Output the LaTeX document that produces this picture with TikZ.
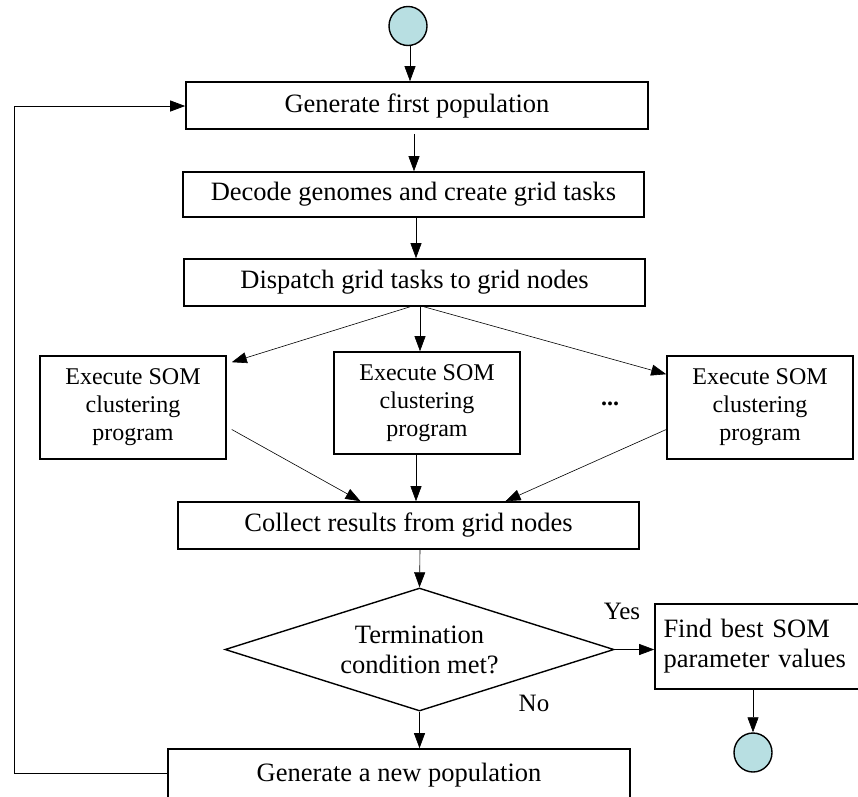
\documentclass[tikz,border=0pt]{standalone}
\usepackage{fontspec}
\setmainfont{Liberation Serif}
\usetikzlibrary{shapes.geometric,arrows.meta}
\definecolor{startcol}{RGB}{184,223,226}
\tikzset{
  procbox/.style={draw,line width=1.6pt,inner sep=0pt,align=center,font=\fontsize{26.5}{30}\selectfont},
  sombox/.style={draw,line width=1.6pt,inner sep=0pt,align=center,minimum width=186pt,minimum height=103pt,font=\fontsize{24}{28}\selectfont},
  termnode/.style={draw,line width=1.4pt,ellipse,fill=startcol,minimum width=38pt,minimum height=39pt,inner sep=0pt},
  conn/.style={line width=0.6pt,-{Triangle[length=15pt,width=11pt]}},
  lbl/.style={font=\fontsize{25}{30}\selectfont,inner sep=0pt}
}
\begin{document}
\begin{tikzpicture}[x=1pt,y=-1pt]
\useasboundingbox (0,0) rectangle (858,796);
\node[termnode] (start) at (408,26) {};
\node[procbox,minimum width=462pt,minimum height=47pt] (gen) at (417,105.5) {Generate first population};
\node[procbox,minimum width=461pt,minimum height=45pt] (dec) at (413.5,194.5) {Decode genomes and create grid tasks};
\node[procbox,minimum width=461pt,minimum height=47pt] (disp) at (414.5,282.5) {Dispatch grid tasks to grid nodes};
\node[sombox] (som1) at (133,407.5) {Execute SOM\\clustering\\program};
\node[sombox,minimum height=102pt] (som2) at (427,403) {Execute SOM\\clustering\\program};
\node[sombox] (som3) at (760,407.5) {Execute SOM\\clustering\\program};
\node[font=\fontsize{24}{28}\selectfont\bfseries,inner sep=0pt] (dots) at (610,404) {...};
\node[procbox,minimum width=461pt,minimum height=47pt] (coll) at (408.5,525.5) {Collect results from grid nodes};
\node[procbox,diamond,shape aspect=3.16,minimum width=389pt,minimum height=123pt,line width=1.4pt] (term) at (419.5,649.5) {Termination\\condition met?};
\node[procbox,minimum width=207pt,minimum height=85pt,align=left,text width=190pt] (best) at (758.5,646.5) {Find best SOM\\parameter values};
\node[procbox,minimum width=462pt,minimum height=52pt] (newp) at (399,775) {Generate a new population};
\node[termnode] (stop) at (753,752.5) {};
\node[lbl] (yes) at (622,611) {Yes};
\node[lbl] (no) at (534,703) {No};
% connectors
\draw[conn] ([xshift=2pt]start.south) -- ([xshift=-7pt]gen.north);
\draw[conn] ([xshift=-3pt,yshift=-4pt]gen.south) -- ([xshift=0.5pt]dec.north);
\draw[conn] ([xshift=2.5pt]dec.south) -- ([xshift=1.5pt]disp.north);
\draw[conn] ([xshift=-4.5pt]disp.south) -- ([xshift=5pt,yshift=-7pt]som1.north east);
\draw[conn] ([xshift=5.5pt]disp.south) -- ([xshift=-7pt]som2.north);
\draw[conn] ([xshift=9.5pt]disp.south) -- ([yshift=-19pt]som3.north west);
\draw[conn] ([xshift=5pt,yshift=-22pt]som1.east) -- ([xshift=-48pt]coll.north);
\draw[conn] ([xshift=-11pt]som2.south) -- ([xshift=7.5pt]coll.north);
\draw[conn] ([yshift=-22pt]som3.west) -- ([xshift=97pt]coll.north);
\draw[conn] ([xshift=11.5pt]coll.south) -- (term.north);
\draw[conn] (term.east) -- (best.west |- term.east);
\draw[conn] (term.south) -- (term.south |- newp.north);
\draw[conn] (best.south -| stop) -- (stop.north);
\coordinate (loopbot) at (14,773);
\coordinate (looptop) at (14,106);
\draw[line width=0.8pt] (newp.west |- loopbot) -- (loopbot) -- (looptop);
\draw[conn,line width=0.8pt] (looptop) -- (gen.west |- looptop);
\end{tikzpicture}
\end{document}
